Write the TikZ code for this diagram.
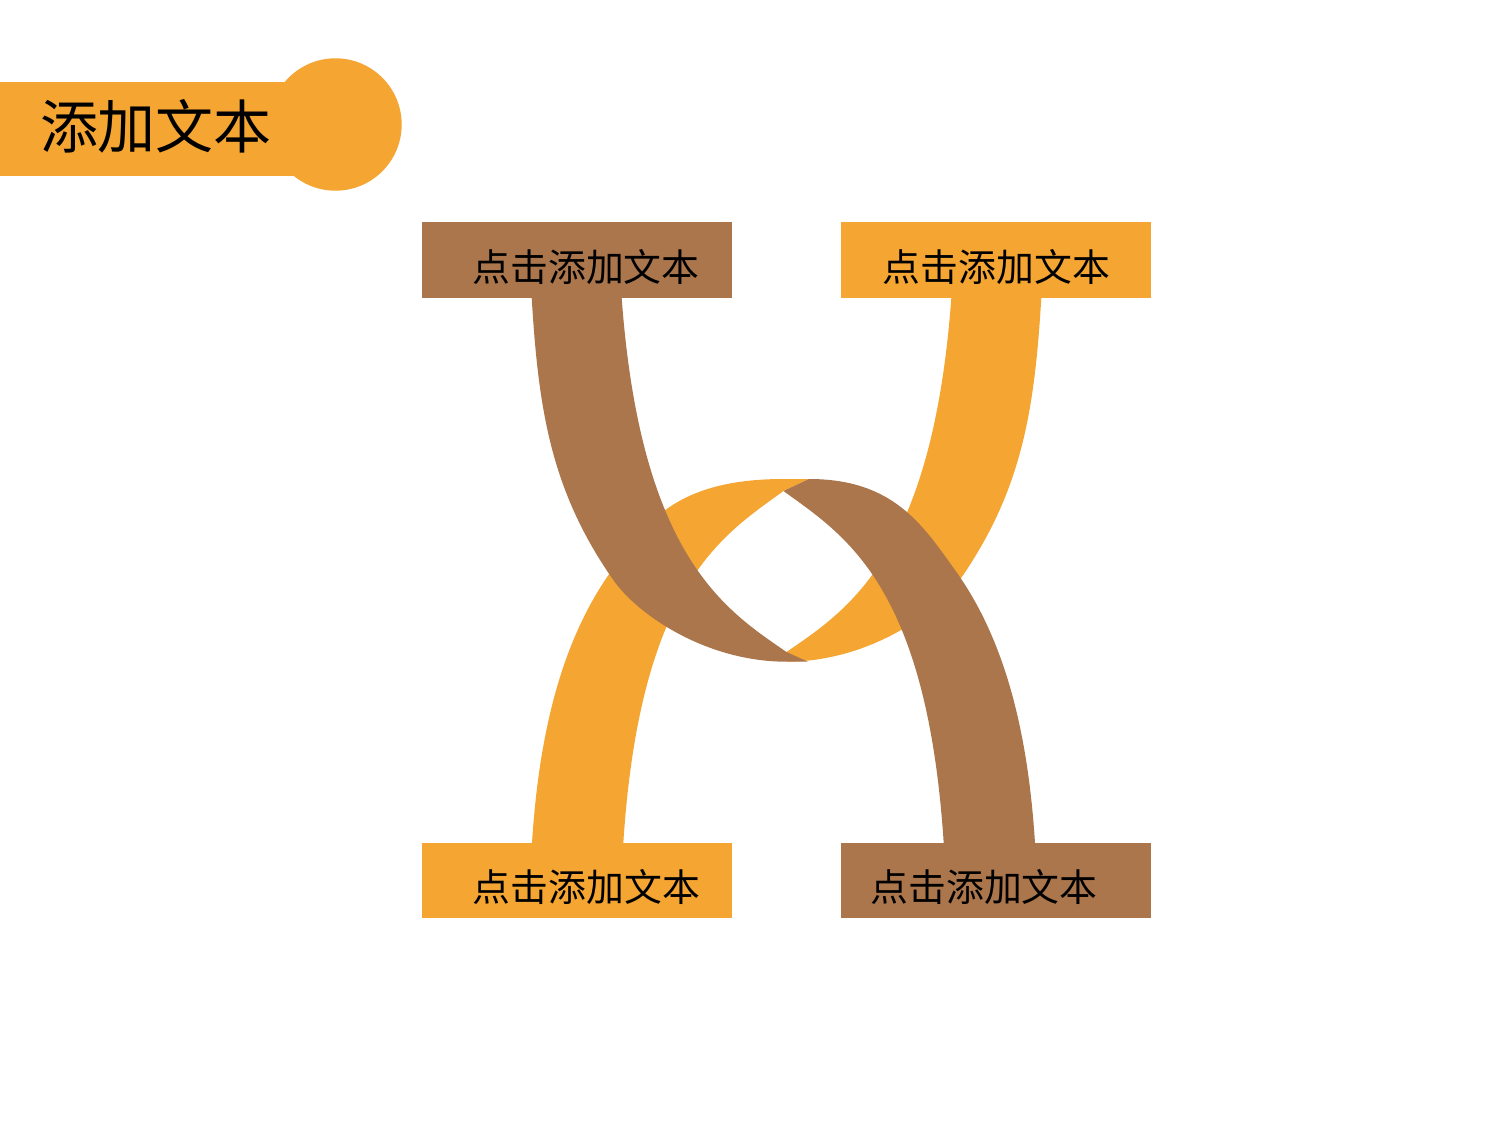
\documentclass[tikz,border=0pt]{standalone}
\usepackage{fontspec}
\setmainfont{Noto Sans CJK SC}
\definecolor{barOrange}{RGB}{244,165,50}
\definecolor{barBrown}{RGB}{171,118,76}
\tikzset{every picture/.style={line width=0.75pt}}
\tikzset{
  orangePart/.style={draw opacity=0, fill=barOrange},
  brownPart/.style={draw opacity=0, fill=barBrown},
  boxLabel/.style={inner sep=0.75pt, font=\fontsize{28.4}{34}\selectfont},
  titleLabel/.style={inner sep=0.75pt, font=\fontsize{43.5}{52}\selectfont}
}

\begin{document}
\begin{tikzpicture}[x=0.75pt,y=0.75pt,yscale=-1,xscale=1]
    \useasboundingbox (0,0) rectangle (1500,1125);
    
    % Title Bar
    \draw  [orangePart] (0,82.3) -- (300,82.3) -- (300,176) -- (0,176) -- cycle ;
    \draw  [orangePart] (335.5,124.5) circle (66.2) ;
    \draw (156,126.7) node [titleLabel] (title) {添加文本};
    
    % Shape: lower arch, left half
    \draw  [orangePart] (532,851) -- (532,843) .. controls (539,733) and (561.6,640) .. (612,570) .. controls (644.4,525) and (673.5,479) .. (783.5,479) -- (809,479) -- (783.5,491) .. controls (723.5,534.8) and (640.2,583) .. (623.3,843) -- (623.3,851) -- cycle ;
    % Shape: upper bow, right half
    \draw  [orangePart] (786.5,652) -- (786.5,661.7) .. controls (866.5,661.7) and (935.2,615) .. (959.7,580) .. controls (1022.7,490) and (1034.6,408) .. (1041.3,298) -- (1041.3,290) -- (951.3,290) -- (951.3,298) .. controls (932.3,558) and (846.5,610.6) .. (786.5,652) -- cycle ;
    % Shape: upper bow, left half
    \draw  [brownPart] (531.7,290) -- (531.7,298) .. controls (538.4,408) and (550.3,490) .. (613.3,580) .. controls (637.8,615) and (706.5,661.7) .. (786.5,661.7) -- (808,661.7) -- (786.5,652) .. controls (726.5,610.6) and (640.7,558) .. (621.7,298) -- (621.7,290) -- cycle ;
    % Shape: lower arch, right half
    \draw  [brownPart] (783.5,491) -- (809,479) .. controls (893.5,479) and (922.6,525) .. (955,570) .. controls (1005.4,640) and (1028,733) .. (1035,843) -- (1035,851) -- (943.7,851) -- (943.7,843) .. controls (926.8,583) and (843.5,534.8) .. (783.5,491) -- cycle ;
    
    % Text Node
    \draw  [brownPart] (421.7,222.3) -- (732.3,222.3) -- (732.3,298.3) -- (421.7,298.3) -- cycle ;
    \draw (586,266.8) node [boxLabel] (topLeft) {点击添加文本};
    % Text Node
    \draw  [orangePart] (841,222.3) -- (1151,222.3) -- (1151,298.3) -- (841,298.3) -- cycle ;
    \draw (996.5,266.8) node [boxLabel] (topRight) {点击添加文本};
    % Text Node
    \draw  [orangePart] (421.7,842.7) -- (732.3,842.7) -- (732.3,918) -- (421.7,918) -- cycle ;
    \draw (586.5,886.8) node [boxLabel] (bottomLeft) {点击添加文本};
    % Text Node
    \draw  [brownPart] (841,842.7) -- (1151,842.7) -- (1151,918) -- (841,918) -- cycle ;
    \draw (984,886.8) node [boxLabel] (bottomRight) {点击添加文本};
\end{tikzpicture}
\end{document}
